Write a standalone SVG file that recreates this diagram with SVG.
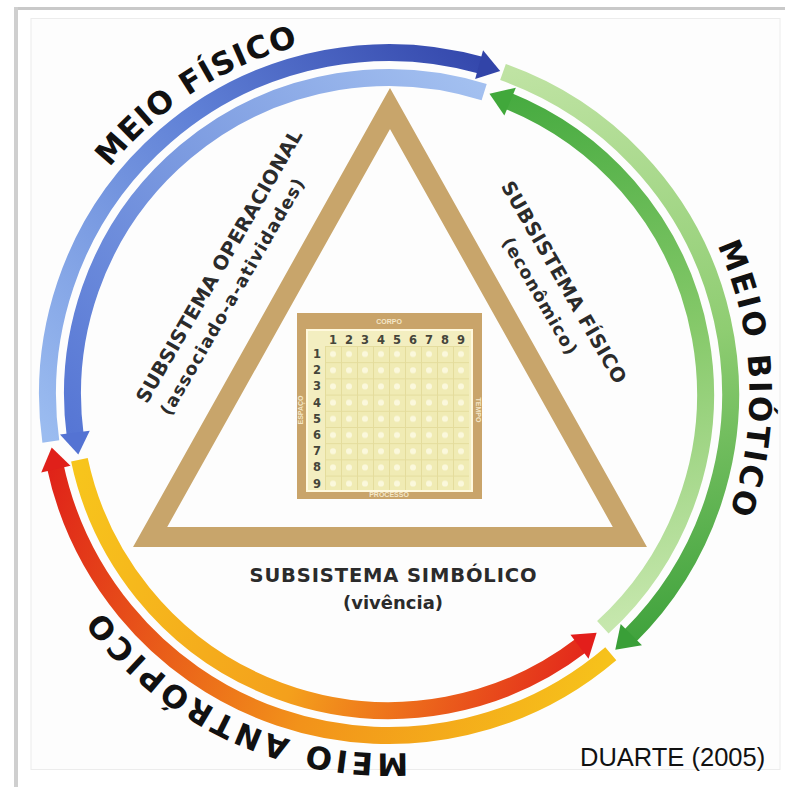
<svg xmlns="http://www.w3.org/2000/svg" width="785" height="787" viewBox="0 0 785 787">
<defs>
<style>
.t{font-family:"DejaVu Sans","Liberation Sans",Arial,sans-serif;font-weight:bold;fill:#1c1c1c}
.big{font-size:31px;fill:#111}
.sub{font-size:19.5px;fill:#2b2b2b}
.par{font-size:17.5px;fill:#2b2b2b}
.num{font-family:"DejaVu Sans","Liberation Sans",Arial,sans-serif;font-size:11.5px;font-weight:bold;fill:#45453a}
.frm{font-family:"Liberation Sans",Arial,sans-serif;font-size:7px;font-weight:bold;fill:#f4e7c8}
.band{fill:none;stroke-width:17}
</style>
<linearGradient id="gBO" gradientUnits="userSpaceOnUse" x1="51" y1="441" x2="500" y2="71"><stop offset="0" stop-color="#9bbcf0"/><stop offset="0.55" stop-color="#5f80d6"/><stop offset="1" stop-color="#3346ab"/></linearGradient>
<linearGradient id="gBI" gradientUnits="userSpaceOnUse" x1="484" y1="92" x2="78" y2="454"><stop offset="0" stop-color="#a3c0f0"/><stop offset="0.5" stop-color="#7b9ae0"/><stop offset="1" stop-color="#5575d4"/></linearGradient>
<linearGradient id="gGO" gradientUnits="userSpaceOnUse" x1="503" y1="72" x2="615" y2="650"><stop offset="0" stop-color="#bfe3a3"/><stop offset="0.5" stop-color="#8fcd72"/><stop offset="1" stop-color="#3fa23c"/></linearGradient>
<linearGradient id="gGI" gradientUnits="userSpaceOnUse" x1="603" y1="627" x2="489" y2="94"><stop offset="0" stop-color="#c6e7ad"/><stop offset="0.5" stop-color="#86c96a"/><stop offset="1" stop-color="#45aa3f"/></linearGradient>
<linearGradient id="gRO" gradientUnits="userSpaceOnUse" x1="611" y1="654" x2="52" y2="447"><stop offset="0" stop-color="#f6c21b"/><stop offset="0.45" stop-color="#f2921a"/><stop offset="1" stop-color="#df2119"/></linearGradient>
<linearGradient id="gRI" gradientUnits="userSpaceOnUse" x1="79" y1="460" x2="597" y2="633"><stop offset="0" stop-color="#f7c51c"/><stop offset="0.5" stop-color="#f4a01c"/><stop offset="1" stop-color="#e3261b"/></linearGradient>
<pattern id="dots" patternUnits="userSpaceOnUse" x="325" y="346" width="16" height="16.2">
<rect width="16" height="16.2" fill="#f0ebb4"/>
<path d="M0 0.5H16M0.5 0V16.2" stroke="#e4dc9c" stroke-width="1"/>
<circle cx="8" cy="8" r="3" fill="#fbf8dc"/>
</pattern>
<path id="tpF" d="M 109.61 167.76 A 359.5 359.5 0 0 1 357.67 35.87"/>
<path id="tpB" d="M 717.30 245.08 A 360.5 360.5 0 0 1 701.20 574.25"/>
<path id="tpA" d="M 407.82 753.01 A 359.5 359.5 0 0 1 77.66 573.75"/>
</defs>

<rect width="785" height="787" fill="#ffffff"/>
<rect x="31" y="18.5" width="749" height="751" fill="#fdfdfd" stroke="#ececec" stroke-width="1"/>
<rect x="14" y="7" width="771" height="3" fill="#c9c9c9"/>
<rect x="14" y="7" width="4" height="780" fill="#cfcfcf"/>

<g id="connectors">
<path class="band" stroke="url(#gBO)" d="M 50.82 441.53 A 341.5 341.5 0 0 1 483.13 65.73"/>
<polygon fill="#3244a8" points="483.07,50.13 500.18,71.11 475.15,79.07"/>
<path class="band" stroke="url(#gBI)" d="M 484.17 92.15 A 316.5 316.5 0 0 0 75.21 435.31"/>
<polygon fill="#5473d3" points="59.97,434.40 89.75,430.74 78.31,454.39"/>
<path class="band" stroke="url(#gGO)" d="M 503.00 72.09 A 341.5 341.5 0 0 1 629.21 636.74"/>
<polygon fill="#3a9f38" points="641.97,645.20 620.68,624.06 615.28,649.77"/>
<path class="band" stroke="url(#gGI)" d="M 602.82 627.35 A 316.5 316.5 0 0 0 507.56 100.55"/>
<polygon fill="#41a83b" points="515.86,87.73 504.38,115.45 489.43,93.86"/>
<path class="band" stroke="url(#gRO)" d="M 610.79 653.68 A 341.5 341.5 0 0 1 54.96 465.00"/>
<polygon fill="#e0201a" points="41.22,472.38 70.49,465.78 51.70,447.42"/>
<path class="band" stroke="url(#gRI)" d="M 79.42 459.80 A 316.5 316.5 0 0 0 581.67 645.10"/>
<polygon fill="#e31e1b" points="588.50,658.75 570.45,634.79 596.64,632.87"/>
</g>

<g id="meio-fisico"><text class="t big"><textPath href="#tpF" textLength="228" lengthAdjust="spacing">MEIO FÍSICO</textPath></text></g>
<g id="meio-biotico"><text class="t big"><textPath href="#tpB" textLength="274" lengthAdjust="spacing">MEIO BIÓTICO</textPath></text></g>
<g id="meio-antropico"><text class="t big"><textPath href="#tpA" textLength="351" lengthAdjust="spacing">MEIO ANTRÓPICO</textPath></text></g>

<g id="triangle">
<polygon points="390,108.5 150.1,537 629.9,537" fill="none" stroke="#c8a56b" stroke-width="20" stroke-linejoin="miter"/>
</g>

<g id="subsistema-operacional" transform="translate(219,266) rotate(-60)">
<text class="t sub" x="0" y="7" text-anchor="middle" textLength="312" lengthAdjust="spacing">SUBSISTEMA OPERACIONAL</text>
<text class="t par" x="-20" y="33" text-anchor="middle" textLength="270" lengthAdjust="spacing">(associado-a-atividades)</text>
</g>

<g id="subsistema-fisico" transform="translate(564,282) rotate(60)">
<text class="t sub" x="0" y="7" text-anchor="middle" textLength="230" lengthAdjust="spacing">SUBSISTEMA FÍSICO</text>
<text class="t par" x="0" y="34" text-anchor="middle" textLength="132" lengthAdjust="spacing">(econômico)</text>
</g>

<g id="subsistema-simbolico">
<text class="t sub" x="393" y="582" text-anchor="middle" textLength="287" lengthAdjust="spacing">SUBSISTEMA SIMBÓLICO</text>
<text class="t par" x="393" y="609" text-anchor="middle" textLength="100" lengthAdjust="spacingAndGlyphs">(vivência)</text>
</g>

<g id="grid">
<rect x="297" y="313" width="185" height="186" fill="#c9a46a"/>
<rect x="306" y="329" width="167" height="163" fill="#fff9de"/>
<rect x="308" y="331" width="163" height="159" fill="#f3eec0"/>
<rect x="325" y="346" width="144" height="144" fill="url(#dots)"/>
<text class="frm" x="389" y="324" text-anchor="middle">CORPO</text>
<text class="frm" x="389" y="497" text-anchor="middle">PROCESSO</text>
<text class="frm" transform="translate(303,410) rotate(-90)" text-anchor="middle">ESPAÇO</text>
<text class="frm" transform="translate(476,410) rotate(90)" text-anchor="middle">TEMPO</text>
<g class="num" text-anchor="middle">
<text x="333" y="344">1</text><text x="349" y="344">2</text><text x="365" y="344">3</text><text x="381" y="344">4</text><text x="397" y="344">5</text><text x="413" y="344">6</text><text x="429" y="344">7</text><text x="445" y="344">8</text><text x="461" y="344">9</text>
<text x="317" y="358">1</text><text x="317" y="374">2</text><text x="317" y="390">3</text><text x="317" y="407">4</text><text x="317" y="423">5</text><text x="317" y="439">6</text><text x="317" y="455">7</text><text x="317" y="471">8</text><text x="317" y="488">9</text>
</g>
</g>

<g id="credit"><text x="580" y="766" font-family="Liberation Sans,Arial,sans-serif" font-size="25.5" fill="#111">DUARTE (2005)</text></g>
</svg>
